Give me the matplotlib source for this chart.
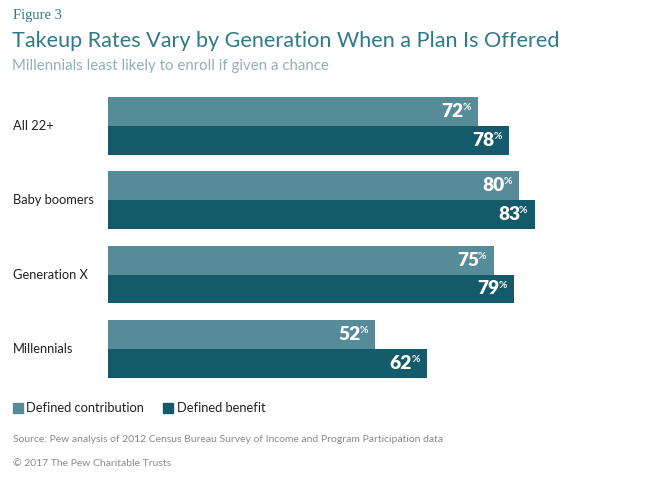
import matplotlib
matplotlib.use("Agg")
import matplotlib.pyplot as plt
from matplotlib.patches import Rectangle

categories = ["All 22+", "Baby boomers", "Generation X", "Millennials"]
dc_values = [72, 80, 75, 52]
db_values = [78, 83, 79, 62]
series_names = ["Defined contribution", "Defined benefit"]

C_DC = "#568c98"
C_DB = "#145a6b"
TEAL = "#2f7b89"

W, H = 650, 478
fig = plt.figure(figsize=(W / 100, H / 100), dpi=100)

def fx(px):
    return px / W

def fy(py):
    return 1 - py / H

# axes: x 108 -> 0%, 622 -> 100%; y center of group 0 at 126, spacing 74.3
sp = 74.3
top_px = 126 - 0.5 * sp
bot_px = 126 + 3.5 * sp
ax = fig.add_axes([fx(108), fy(bot_px), fx(622 - 108), (bot_px - top_px) / H])
ax.set_xlim(0, 100)
ax.set_ylim(3.5, -0.5)
ax.axis("off")

bh = 28.8 / sp
ys = list(range(len(categories)))
ax.barh([y - bh / 2 for y in ys], dc_values, height=bh, color=C_DC, align="center")
ax.barh([y + bh / 2 for y in ys], db_values, height=bh, color=C_DB, align="center")

def label(v, y):
    ax.annotate("%", xy=(v, y), xytext=(-7, 4), textcoords="offset pixels",
                ha="right", va="center", color="white", fontsize=7.5,
                fontweight="bold", family="Lato")
    ax.annotate(f"{v}", xy=(v, y), xytext=(-14.5, 0), textcoords="offset pixels",
                ha="right", va="center", color="white", fontsize=13.8,
                fontweight="heavy", family="Lato")

for y, a, b in zip(ys, dc_values, db_values):
    label(a, y - bh / 2)
    label(b, y + bh / 2)

for i, c in enumerate(categories):
    fig.text(fx(13), fy(126 + i * sp), c, ha="left", va="center",
             fontsize=9.3, family="Lato", color="#222222")

# titles
fig.text(fx(13), fy(16), "Figure 3", ha="left", va="center", fontsize=10.5,
         family="Liberation Serif", color=TEAL)
fig.text(fx(12), fy(41), "Takeup Rates Vary by Generation When a Plan Is Offered",
         ha="left", va="center", fontsize=15.6, family="Lato", color=TEAL)
fig.text(fx(12), fy(66), "Millennials least likely to enroll if given a chance",
         ha="left", va="center", fontsize=10.8, family="Lato", color="#8fb0ba")

# legend
fig.patches.append(Rectangle((fx(13), fy(413)), fx(10), 10 / H, color=C_DC,
                             transform=fig.transFigure))
fig.text(fx(26), fy(408), series_names[0], ha="left", va="center", fontsize=9.3,
         family="Lato", color="#222222")
fig.patches.append(Rectangle((fx(163), fy(413)), fx(10), 10 / H, color=C_DB,
                             transform=fig.transFigure))
fig.text(fx(177), fy(408), series_names[1], ha="left", va="center", fontsize=9.3,
         family="Lato", color="#222222")

fig.text(fx(13), fy(440), "Source: Pew analysis of 2012 Census Bureau Survey of Income and Program Participation data",
         ha="left", va="center", fontsize=7.5, family="Lato", color="#8a8a8a")
fig.text(fx(13), fy(463), "© 2017 The Pew Charitable Trusts",
         ha="left", va="center", fontsize=7.5, family="Lato", color="#8a8a8a")

fig.savefig("out.png", dpi=100)
